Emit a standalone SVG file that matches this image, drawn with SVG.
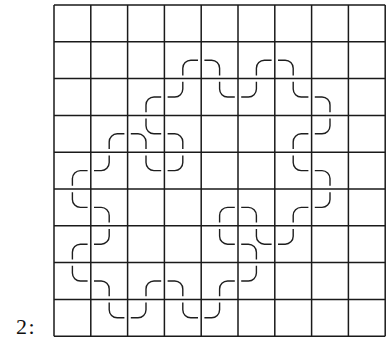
<svg xmlns="http://www.w3.org/2000/svg" xmlns:xlink="http://www.w3.org/1999/xlink" width="387" height="343" viewBox="0 0 387 343">
<style>
.grid{fill:none;stroke:#1a1a1a;stroke-width:1.5}
.curve use{fill:none;stroke:#1e1e1e;stroke-width:1.4;stroke-linecap:butt}
.lbl{font-family:"Liberation Serif","DejaVu Serif",serif;font-size:22px;letter-spacing:1.5px;fill:#111}
</style>
<defs>
<path id="dr" d="M0,15.2 L0,8 C0,3.582 3.582,0 8,0 L15.2,0"/>
<path id="ld" d="M-15.2,0 L-8,0 C-3.582,0 0,3.582 0,8 L0,15.2"/>
<path id="ul" d="M0,-15.2 L0,-8 C0,-3.582 -3.582,0 -8,0 L-15.2,0"/>
<path id="ru" d="M15.2,0 L8,0 C3.582,0 0,-3.582 0,-8 L0,-15.2"/>
</defs>
<rect width="387" height="343" fill="#fff"/>
<g id="grid" class="grid">
<path d="M54,5V336.2M90.8,5V336.2M127.6,5V336.2M164.4,5V336.2M201.2,5V336.2M238,5V336.2M274.8,5V336.2M311.6,5V336.2M348.4,5V336.2M385.2,5V336.2M54,5H385.2M54,41.8H385.2M54,78.6H385.2M54,115.4H385.2M54,152.2H385.2M54,189H385.2M54,225.8H385.2M54,262.6H385.2M54,299.4H385.2M54,336.2H385.2"/>
</g>
<g id="curve" class="curve">
<use xlink:href="#dr" x="182.8" y="60.2"/>
<use xlink:href="#ld" x="219.6" y="60.2"/>
<use xlink:href="#ru" x="219.6" y="97"/>
<use xlink:href="#ul" x="256.4" y="97"/>
<use xlink:href="#dr" x="256.4" y="60.2"/>
<use xlink:href="#ld" x="293.2" y="60.2"/>
<use xlink:href="#ru" x="293.2" y="97"/>
<use xlink:href="#ld" x="330" y="97"/>
<use xlink:href="#ul" x="330" y="133.8"/>
<use xlink:href="#dr" x="293.2" y="133.8"/>
<use xlink:href="#ru" x="293.2" y="170.6"/>
<use xlink:href="#ld" x="330" y="170.6"/>
<use xlink:href="#ul" x="330" y="207.4"/>
<use xlink:href="#dr" x="293.2" y="207.4"/>
<use xlink:href="#ul" x="293.2" y="244.2"/>
<use xlink:href="#ru" x="256.4" y="244.2"/>
<use xlink:href="#ld" x="256.4" y="207.4"/>
<use xlink:href="#dr" x="219.6" y="207.4"/>
<use xlink:href="#ru" x="219.6" y="244.2"/>
<use xlink:href="#ld" x="256.4" y="244.2"/>
<use xlink:href="#ul" x="256.4" y="281"/>
<use xlink:href="#dr" x="219.6" y="281"/>
<use xlink:href="#ul" x="219.6" y="317.8"/>
<use xlink:href="#ru" x="182.8" y="317.8"/>
<use xlink:href="#ld" x="182.8" y="281"/>
<use xlink:href="#dr" x="146" y="281"/>
<use xlink:href="#ul" x="146" y="317.8"/>
<use xlink:href="#ru" x="109.2" y="317.8"/>
<use xlink:href="#ld" x="109.2" y="281"/>
<use xlink:href="#ru" x="72.4" y="281"/>
<use xlink:href="#dr" x="72.4" y="244.2"/>
<use xlink:href="#ul" x="109.2" y="244.2"/>
<use xlink:href="#ld" x="109.2" y="207.4"/>
<use xlink:href="#ru" x="72.4" y="207.4"/>
<use xlink:href="#dr" x="72.4" y="170.6"/>
<use xlink:href="#ul" x="109.2" y="170.6"/>
<use xlink:href="#dr" x="109.2" y="133.8"/>
<use xlink:href="#ld" x="146" y="133.8"/>
<use xlink:href="#ru" x="146" y="170.6"/>
<use xlink:href="#ul" x="182.8" y="170.6"/>
<use xlink:href="#ld" x="182.8" y="133.8"/>
<use xlink:href="#ru" x="146" y="133.8"/>
<use xlink:href="#dr" x="146" y="97"/>
<use xlink:href="#ul" x="182.8" y="97"/>
</g>
<text class="lbl" x="16" y="334">2:</text>
</svg>
